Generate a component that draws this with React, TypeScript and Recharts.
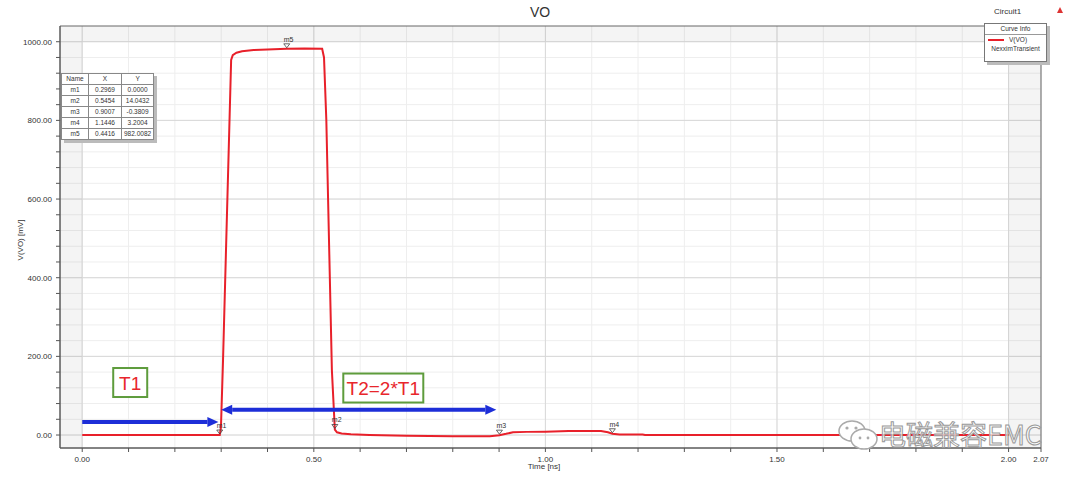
import React from "react";
import {
  ComposedChart,
  Line,
  XAxis,
  YAxis,
  CartesianGrid,
  ReferenceArea,
  ReferenceLine,
  ReferenceDot,
} from "recharts";

// transient waveform V(VO), time in ns, voltage in mV
const timeNs = [
  0, 0.2969, 0.2995, 0.304, 0.318, 0.3215, 0.325, 0.333, 0.345, 0.37, 0.4, 0.4416, 0.48, 0.518,
  0.522, 0.527, 0.539, 0.5454, 0.55, 0.56, 0.58, 0.62, 0.7, 0.8, 0.88, 0.9007, 0.915, 0.93, 0.96,
  1.0, 1.05, 1.12, 1.135, 1.1446, 1.16, 1.21, 1.215, 2.0,
];
const voMv = [
  0, 0, 20, 191, 801, 954, 966, 972, 976, 979, 980, 982, 982.5, 982, 960, 801, 165, 14, 7, 4, 2,
  0, -2, -3, -3, -0.4, 3, 7, 8, 8.5, 10, 10, 7, 3.2, 1.5, 1.5, 0, 0,
];

// marker table
const markerNames = ["m1", "m2", "m3", "m4", "m5"];
const markerX = [0.2969, 0.5454, 0.9007, 1.1446, 0.4416];
const markerY = [0.0, 14.0432, -0.3809, 3.2004, 982.0082];

// axis ticks
const xTicks = [
  0, 0.1, 0.2, 0.3, 0.4, 0.5, 0.6, 0.7, 0.8, 0.9, 1.0, 1.1, 1.2, 1.3, 1.4, 1.5, 1.6, 1.7, 1.8, 1.9,
  2.0, 2.07,
];
const xMajor = [0, 0.5, 1.0, 1.5, 2.0];
const xLabels = ["0.00", "0.50", "1.00", "1.50", "2.00", "2.07"];
const xLabelValues = [0, 0.5, 1.0, 1.5, 2.0, 2.07];
const yTicks = [
  0, 40, 80, 120, 160, 200, 240, 280, 320, 360, 400, 440, 480, 520, 560, 600, 640, 680, 720, 760,
  800, 840, 880, 920, 960, 1000,
];
const yMajor = [0, 200, 400, 600, 800, 1000];

// annotations
const arrowFrom = [0, 0.3];
const arrowTo = [0.294, 0.894];
const arrowY = [33, 64];
const arrowBoth = [false, true];
const boxText = ["T1", "T2=2*T1"];
const boxX = [0.1036, 0.65];
const boxY = [133.5, 119.5];
const boxW = [34, 80];

const X_MIN = -0.048;
const X_MAX = 2.07;
const Y_MIN = -33;
const Y_MAX = 1040;

const data = timeNs.map((t, i) => ({ t, v: voMv[i] }));

const FONT = '"Liberation Sans", Arial, sans-serif';

const XTick = (props: any) => {
  const { x, y, payload } = props;
  const idx = xLabelValues.findIndex((v) => Math.abs(v - payload.value) < 1e-6);
  if (idx < 0) return <g />;
  return (
    <text x={x} y={y + 8} textAnchor="middle" fontSize={8} fill="#333" fontFamily={FONT}>
      {xLabels[idx]}
    </text>
  );
};

const YTick = (props: any) => {
  const { x, y, payload } = props;
  if (!yMajor.includes(payload.value)) return <g />;
  return (
    <text x={x - 2} y={y + 3} textAnchor="end" fontSize={8} fill="#333" fontFamily={FONT}>
      {payload.value.toFixed(2)}
    </text>
  );
};

const arrowShape = (both: boolean) => (p: any) => {
  const { x1, y1, x2, y2 } = p;
  const h = 11;
  const w = 5;
  const sx = both ? x1 + h : x1;
  return (
    <g>
      <line x1={sx} y1={y1} x2={x2 - h} y2={y2} stroke="#1d2ed8" strokeWidth={4} />
      <polygon points={`${x2},${y2} ${x2 - h},${y2 - w} ${x2 - h},${y2 + w}`} fill="#1d2ed8" />
      {both && (
        <polygon points={`${x1},${y1} ${x1 + h},${y1 - w} ${x1 + h},${y1 + w}`} fill="#1d2ed8" />
      )}
    </g>
  );
};

const boxShape = (text: string, w: number) => (p: any) => {
  const { cx, cy } = p;
  const h = 29;
  return (
    <g>
      <rect x={cx - w / 2} y={cy - h / 2} width={w} height={h} fill="#fff" stroke="#5e9c3c" strokeWidth={2} />
      <text x={cx} y={cy + 7} textAnchor="middle" fontSize={19} fill="#e8262c" fontFamily={FONT}>
        {text}
      </text>
    </g>
  );
};

const markerShape = (name: string) => (p: any) => {
  const { cx, cy } = p;
  return (
    <g>
      <polygon
        points={`${cx - 3},${cy - 5} ${cx + 3},${cy - 5} ${cx},${cy - 1}`}
        fill="none"
        stroke="#444"
        strokeWidth={0.8}
      />
      <text x={cx - 3} y={cy - 7} fontSize={7} fill="#333" fontFamily={FONT}>
        {name}
      </text>
    </g>
  );
};

const cell: React.CSSProperties = {
  border: "1px solid #888",
  padding: "0 2px",
  height: 10,
  lineHeight: "10px",
  textAlign: "center",
};

export default function App() {
  return (
    <div style={{ position: "relative", width: 1080, height: 481, background: "#fff", fontFamily: FONT }}>
      <style>{`body{margin:0}`}</style>
      <div style={{ position: "absolute", left: 0, top: 4, width: 1080, textAlign: "center", fontSize: 14, color: "#333" }}>
        VO
      </div>
      <div style={{ position: "absolute", left: 994, top: 7, fontSize: 8, color: "#333" }}>Circuit1</div>
      <svg style={{ position: "absolute", left: 1056, top: 6 }} width={8} height={8}>
        <polygon points="4,1 7,7 1,7" fill="#d33" />
      </svg>

      <ComposedChart
        width={1080}
        height={481}
        data={data}
        margin={{ top: 26, right: 39, bottom: 0, left: 0 }}
      >
        <ReferenceArea x1={X_MIN} x2={0} y1={Y_MIN} y2={Y_MAX} fill="#000" fillOpacity={0.045} stroke="none" />
        <ReferenceArea x1={2.0} x2={X_MAX} y1={Y_MIN} y2={Y_MAX} fill="#000" fillOpacity={0.045} stroke="none" />
        <ReferenceArea x1={0} x2={2.0} y1={1000} y2={Y_MAX} fill="#000" fillOpacity={0.045} stroke="none" />
        <CartesianGrid verticalValues={xTicks} horizontalValues={yTicks} stroke="#eeeeee" />
        <CartesianGrid verticalValues={xMajor} horizontalValues={yMajor} stroke="#d8d8d8" />
        <XAxis
          dataKey="t"
          type="number"
          domain={[X_MIN, X_MAX]}
          allowDataOverflow
          ticks={xTicks}
          interval={0}
          tick={<XTick />}
          tickSize={4}
          height={33}
          axisLine={{ stroke: "#555" }}
          tickLine={{ stroke: "#555" }}
        />
        <YAxis
          type="number"
          domain={[Y_MIN, Y_MAX]}
          allowDataOverflow
          ticks={yTicks}
          interval={0}
          tick={<YTick />}
          tickSize={4}
          width={60}
          axisLine={{ stroke: "#555" }}
          tickLine={{ stroke: "#555" }}
        />
        <ReferenceArea x1={X_MIN} x2={X_MAX} y1={Y_MIN} y2={Y_MAX} fill="none" stroke="#666" />
        <Line
          dataKey="v"
          type="linear"
          stroke="#e8202a"
          strokeWidth={2}
          dot={false}
          isAnimationActive={false}
        />
        {markerNames.map((n, i) => (
          <ReferenceDot key={n} x={markerX[i]} y={markerY[i]} r={3} shape={markerShape(n)} />
        ))}
        {arrowFrom.map((f, i) => (
          <ReferenceLine
            key={"a" + i}
            segment={[
              { x: f, y: arrowY[i] },
              { x: arrowTo[i], y: arrowY[i] },
            ]}
            stroke="#1d2ed8"
            shape={arrowShape(arrowBoth[i])}
          />
        ))}
        {boxText.map((t, i) => (
          <ReferenceDot key={t} x={boxX[i]} y={boxY[i]} r={3} shape={boxShape(t, boxW[i])} />
        ))}
      </ComposedChart>

      <div
        style={{
          position: "absolute",
          left: 8,
          top: 240,
          fontSize: 8,
          color: "#333",
          transform: "translate(-50%, -50%) rotate(-90deg)",
          transformOrigin: "center",
          whiteSpace: "nowrap",
          marginLeft: 12,
        }}
      >
        V(VO) [mV]
      </div>
      <div style={{ position: "absolute", left: 0, top: 462, width: 1088, textAlign: "center", fontSize: 8, color: "#333" }}>
        Time [ns]
      </div>

      {/* marker table */}
      <table
        style={{
          position: "absolute",
          left: 61,
          top: 73,
          borderCollapse: "collapse",
          fontSize: 6.5,
          color: "#333",
          background: "#fff",
          boxShadow: "3px 3px 0 #bbb",
        }}
      >
        <tbody>
          <tr>
            <td style={{ ...cell, width: 22 }}>Name</td>
            <td style={{ ...cell, width: 28 }}>X</td>
            <td style={{ ...cell, width: 26 }}>Y</td>
          </tr>
          {markerNames.map((n, i) => (
            <tr key={n}>
              <td style={cell}>{n}</td>
              <td style={cell}>{markerX[i].toFixed(4)}</td>
              <td style={cell}>{markerY[i].toFixed(4)}</td>
            </tr>
          ))}
        </tbody>
      </table>

      {/* curve info legend */}
      <div
        style={{
          position: "absolute",
          left: 984,
          top: 23,
          width: 61,
          height: 37,
          border: "1px solid #777",
          background: "#fff",
          boxShadow: "3px 3px 0 #bbb",
          fontSize: 6.5,
          color: "#333",
        }}
      >
        <div style={{ textAlign: "center", borderBottom: "1px solid #999", height: 10, lineHeight: "10px" }}>
          Curve Info
        </div>
        <div style={{ position: "relative", height: 9, lineHeight: "9px" }}>
          <div style={{ position: "absolute", left: 3, top: 4, width: 16, height: 1.5, background: "#e8202a" }} />
          <span style={{ position: "absolute", left: 24 }}>V(VO)</span>
        </div>
        <div style={{ textAlign: "center", height: 9, lineHeight: "9px" }}>NexximTransient</div>
      </div>

      {/* watermark */}
      <svg style={{ position: "absolute", left: 836, top: 418 }} width={46} height={34}>
        <ellipse cx={16} cy={13} rx={13} ry={10} fill="#fff" stroke="#aaa" strokeWidth={1.5} />
        <ellipse cx={28} cy={21} rx={13} ry={10} fill="#fff" stroke="#aaa" strokeWidth={1.5} />
        <circle cx={11} cy={10} r={1.6} fill="#aaa" />
        <circle cx={20} cy={10} r={1.6} fill="#aaa" />
        <circle cx={24} cy={20} r={1.4} fill="#aaa" />
        <circle cx={32} cy={20} r={1.4} fill="#aaa" />
      </svg>
      <div
        style={{
          position: "absolute",
          left: 879,
          top: 419,
          fontSize: 27,
          fontFamily: '"Noto Sans CJK SC", sans-serif',
          color: "rgba(255,255,255,0.75)",
          WebkitTextStroke: "1px #999",
          whiteSpace: "nowrap",
          lineHeight: "30px",
        }}
      >
        电磁兼容EMC
      </div>
    </div>
  );
}
